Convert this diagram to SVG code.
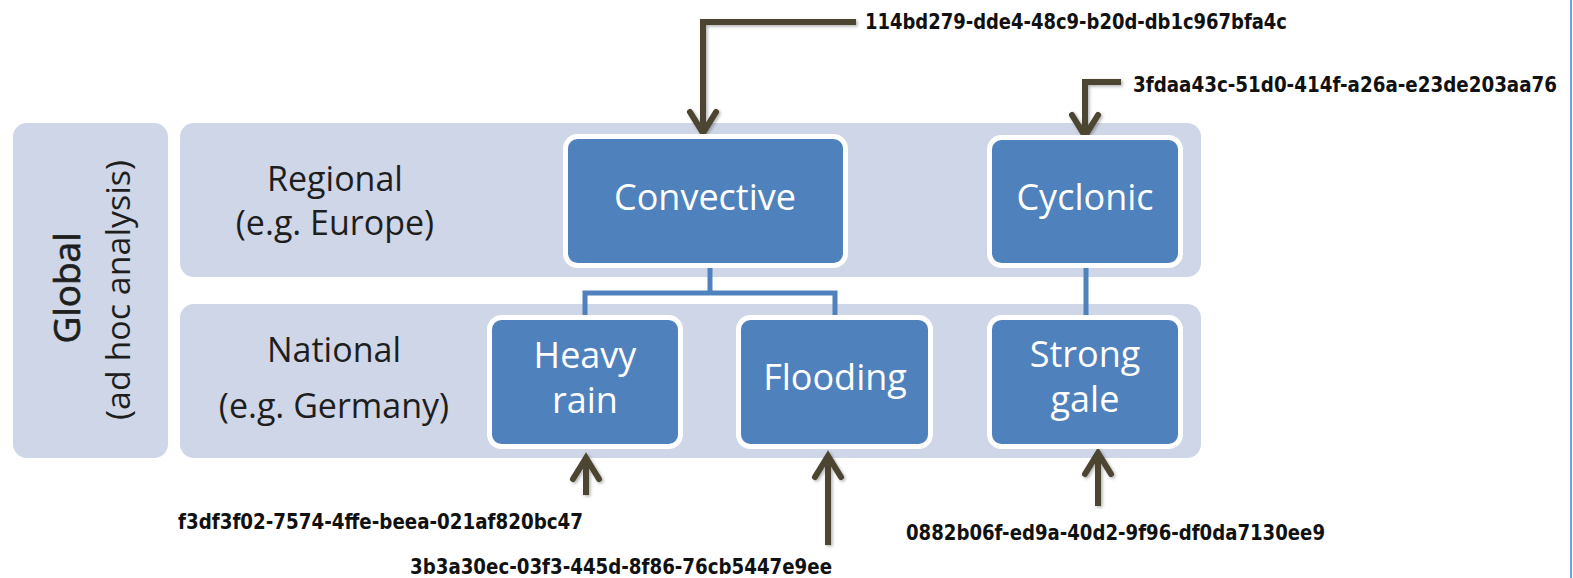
<svg xmlns="http://www.w3.org/2000/svg" width="1573" height="578" viewBox="0 0 1573 578">
  <defs>
    <filter id="soft" x="-20%" y="-20%" width="140%" height="140%">
      <feDropShadow dx="1.5" dy="1.5" stdDeviation="1.5" flood-color="#000" flood-opacity="0.3"/>
    </filter>
  </defs>
  <style>
    .band { fill: #cfd6e7; }
    .box { fill: #4f81bd; stroke: #ffffff; stroke-width: 5; }
    .boxtext { font-family: "Open Sans", "Noto Sans", "Liberation Sans", sans-serif; font-size: 36px; fill: #ffffff; text-anchor: middle; }
    .level { font-family: "Open Sans", "Noto Sans", "Liberation Sans", sans-serif; font-size: 34px; fill: #1e1e1e; text-anchor: middle; }
    .link { fill: none; stroke: #4f81bd; stroke-width: 5; }
    .feed { fill: none; stroke: #4b4530; stroke-width: 6; stroke-linejoin: miter; }
    .head { fill: none; stroke: #4b4530; stroke-width: 6; stroke-linecap: round; stroke-linejoin: miter; }
    .uuid { font-family: "DejaVu Sans", "Liberation Sans", sans-serif; font-stretch: condensed; font-weight: bold; font-size: 21px; fill: #111111; }
  </style>

  <rect x="0" y="0" width="1573" height="578" fill="#ffffff"/>
  <!-- right frame edge -->
  <line x1="1571" y1="0" x2="1571" y2="578" stroke="#6d9ee6" stroke-width="2"/>

  <!-- level bands -->
  <g id="global">
    <rect class="band" x="13" y="123" width="155" height="335" rx="14"/>
    <text transform="translate(80,288) rotate(-90)" font-family="Open Sans, Noto Sans, Liberation Sans, sans-serif" font-size="36" fill="#1e1e1e" stroke="#1e1e1e" stroke-width="0.7" text-anchor="middle" textLength="111" lengthAdjust="spacingAndGlyphs">Global</text>
    <text transform="translate(130,290) rotate(-90)" font-family="Open Sans, Noto Sans, Liberation Sans, sans-serif" font-size="33" fill="#1e1e1e" text-anchor="middle" textLength="260" lengthAdjust="spacingAndGlyphs">(ad hoc analysis)</text>
  </g>
  <g id="regional">
    <rect class="band" x="180" y="123" width="1021" height="154" rx="14"/>
    <text class="level" x="335" y="191">Regional</text>
    <text class="level" x="335" y="235">(e.g. Europe)</text>
  </g>
  <g id="national">
    <rect class="band" x="180" y="304" width="1021" height="154" rx="14"/>
    <text class="level" x="334" y="362">National</text>
    <text class="level" x="334" y="418">(e.g. Germany)</text>
  </g>

  <!-- connectors -->
  <g id="connectors">
    <path class="link" d="M710,268 V293 M585,293 H835 M585,290.5 V316 M835,290.5 V316"/>
    <path class="link" d="M1086,268 V316"/>

    <g filter="url(#soft)">
      <path class="feed" d="M856,22 H703 V133"/>
      <polyline class="head" points="690,112 703,133 716,112"/>

      <path class="feed" d="M1121,82 H1085 V136"/>
      <polyline class="head" points="1072,115 1085,136 1098,115"/>

      <path class="feed" d="M586,495 V458"/>
      <polyline class="head" points="573,479 586,458 599,479"/>

      <path class="feed" d="M828,545 V456"/>
      <polyline class="head" points="815,477 828,456 841,477"/>

      <path class="feed" d="M1098,506 V453"/>
      <polyline class="head" points="1085,474 1098,453 1111,474"/>
    </g>

    <text class="uuid" x="865" y="29" textLength="422" lengthAdjust="spacingAndGlyphs">114bd279-dde4-48c9-b20d-db1c967bfa4c</text>
    <text class="uuid" x="1133" y="92" textLength="424" lengthAdjust="spacingAndGlyphs">3fdaa43c-51d0-414f-a26a-e23de203aa76</text>
    <text class="uuid" x="178" y="529" textLength="405" lengthAdjust="spacingAndGlyphs">f3df3f02-7574-4ffe-beea-021af820bc47</text>
    <text class="uuid" x="410" y="574" textLength="422" lengthAdjust="spacingAndGlyphs">3b3a30ec-03f3-445d-8f86-76cb5447e9ee</text>
    <text class="uuid" x="906" y="540" textLength="419" lengthAdjust="spacingAndGlyphs">0882b06f-ed9a-40d2-9f96-df0da7130ee9</text>
  </g>

  <!-- hazard boxes -->
  <g id="convective">
    <rect class="box" x="565.5" y="136.5" width="280" height="129" rx="12"/>
    <text class="boxtext" x="705" y="210">Convective</text>
  </g>
  <g id="cyclonic">
    <rect class="box" x="989.5" y="137.5" width="191" height="128" rx="12"/>
    <text class="boxtext" x="1085" y="210">Cyclonic</text>
  </g>
  <g id="heavy-rain">
    <rect class="box" x="489.5" y="317.5" width="191" height="129" rx="12"/>
    <text class="boxtext" x="585" y="368">Heavy</text>
    <text class="boxtext" x="585" y="413">rain</text>
  </g>
  <g id="flooding">
    <rect class="box" x="738.5" y="317.5" width="192" height="129" rx="12"/>
    <text class="boxtext" x="835" y="390">Flooding</text>
  </g>
  <g id="strong-gale">
    <rect class="box" x="989.5" y="317.5" width="191" height="129" rx="12"/>
    <text class="boxtext" x="1085" y="367">Strong</text>
    <text class="boxtext" x="1085" y="412">gale</text>
  </g>
</svg>
